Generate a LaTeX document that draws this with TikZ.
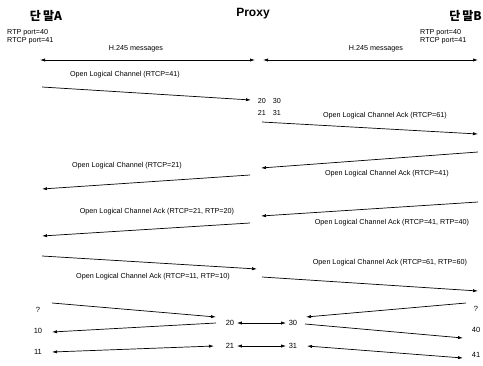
\documentclass[tikz,border=0pt]{standalone}
\usepackage{fontspec}
\setmainfont{Liberation Sans}
\newfontfamily\kfont{Noto Sans CJK KR}
\usetikzlibrary{arrows.meta, positioning}

\tikzset{
	msg/.style={-{Latex[length=5pt,width=3.2pt]}, line width=0.7pt},
	twoway/.style={{Latex[length=5pt,width=3.2pt]}-{Latex[length=5pt,width=3.2pt]}, line width=0.7pt},
	lbl/.style={font=\fontsize{7.2}{8}\selectfont, inner sep=0pt},
	port/.style={font=\fontsize{7.5}{8}\selectfont, inner sep=2.5pt},
	ttl/.style={font=\fontsize{12}{13}\selectfont\bfseries, inner sep=0pt}
}

\begin{document}
\begin{tikzpicture}[x=1pt, y=-1pt]
	\useasboundingbox (0,0) rectangle (483,365);

	% titles
	\node[ttl] (termA) at (46,16) {\kfont 단\,말A};
	\node[ttl] (proxy) at (253,14) {Proxy};
	\node[ttl, anchor=east] (termB) at (482,16) {\kfont 단\,말B};
	\node[lbl, anchor=west, align=left] (portsA) at (7,37) {RTP port=40\\RTCP port=41};
	\node[lbl, anchor=west, align=left] (portsB) at (420,37) {RTP port=40\\RTCP port=41};

	% H.245
	\coordinate (hA) at (40,60);
	\coordinate (hP1) at (255,60);
	\coordinate (hP2) at (263,60);
	\coordinate (hB) at (478,60);
	\draw[twoway] (hA) -- (hP1);
	\draw[twoway] (hP2) -- (hB);
	\node[lbl] (h245A) at (136,49) {H.245 messages};
	\node[lbl] (h245B) at (376,49) {H.245 messages};

	% signalling
	\coordinate (m1s) at (42,87);   \coordinate (m1e) at (251,100);
	\coordinate (m2s) at (262,122); \coordinate (m2e) at (478,134);
	\coordinate (m3s) at (478,152); \coordinate (m3e) at (261,168);
	\coordinate (m4s) at (250,175); \coordinate (m4e) at (42,189);
	\coordinate (m5s) at (478,202); \coordinate (m5e) at (261,216);
	\coordinate (m6s) at (250,223); \coordinate (m6e) at (42,236);
	\coordinate (m7s) at (42,256);  \coordinate (m7e) at (257,269);
	\coordinate (m8s) at (262,277); \coordinate (m8e) at (478,291);
	\draw[msg] (m1s) -- (m1e);
	\draw[msg] (m2s) -- (m2e);
	\draw[msg] (m3s) -- (m3e);
	\draw[msg] (m4s) -- (m4e);
	\draw[msg] (m5s) -- (m5e);
	\draw[msg] (m6s) -- (m6e);
	\draw[msg] (m7s) -- (m7e);
	\draw[msg] (m8s) -- (m8e);
	\node[lbl] (olc1) at (125,75) {Open Logical Channel (RTCP=41)};
	\node[lbl] (ack1) at (385,116) {Open Logical Channel Ack (RTCP=61)};
	\node[lbl] (ack2) at (387,174) {Open Logical Channel Ack (RTCP=41)};
	\node[lbl] (olc2) at (127,166) {Open Logical Channel (RTCP=21)};
	\node[lbl] (ack3) at (157,212) {Open Logical Channel Ack (RTCP=21, RTP=20)};
	\node[lbl] (ack4) at (392,223) {Open Logical Channel Ack (RTCP=41, RTP=40)};
	\node[lbl] (ack5) at (153,277) {Open Logical Channel Ack (RTCP=11, RTP=10)};
	\node[lbl] (ack6) at (390,263) {Open Logical Channel Ack (RTCP=61, RTP=60)};

	% proxy ports
	\node[lbl] (top20) at (262,101) {20};
	\node[lbl] (top30) at (277,101) {30};
	\node[lbl] (top21) at (262,113) {21};
	\node[lbl] (top31) at (277,113) {31};

	% media
	\node[port] (qA) at (38,310) {?};
	\node[port] (p10) at (38,331) {10};
	\node[port] (p11) at (38,352) {11};
	\node[port] (p20) at (230,323) {20};
	\node[port] (p21) at (230,346) {21};
	\node[port] (p30) at (293,323) {30};
	\node[port] (p31) at (293,346) {31};
	\node[port] (qB) at (476,309) {?};
	\node[port] (p40) at (476,330) {40};
	\node[port] (p41) at (476,355) {41};
	\coordinate (r1s) at (52,303);  \coordinate (r1e) at (216,317);
	\coordinate (r2s) at (216,323); \coordinate (r2e) at (52,332);
	\coordinate (r3s) at (52,352);  \coordinate (r3e) at (214,346);
	\coordinate (r4s) at (466,303); \coordinate (r4e) at (306,317);
	\coordinate (r5s) at (305,324); \coordinate (r5e) at (463,338);
	\coordinate (r6s) at (307,346); \coordinate (r6e) at (463,358);
	\draw[msg] (r1s) -- (r1e);
	\draw[msg] (r2s) -- (r2e);
	\draw[twoway] (r3s) -- (r3e);
	\draw[twoway] (p20) -- (p30);
	\draw[twoway] (p21) -- (p31);
	\draw[msg] (r4s) -- (r4e);
	\draw[msg] (r5s) -- (r5e);
	\draw[twoway] (r6s) -- (r6e);
\end{tikzpicture}
\end{document}
